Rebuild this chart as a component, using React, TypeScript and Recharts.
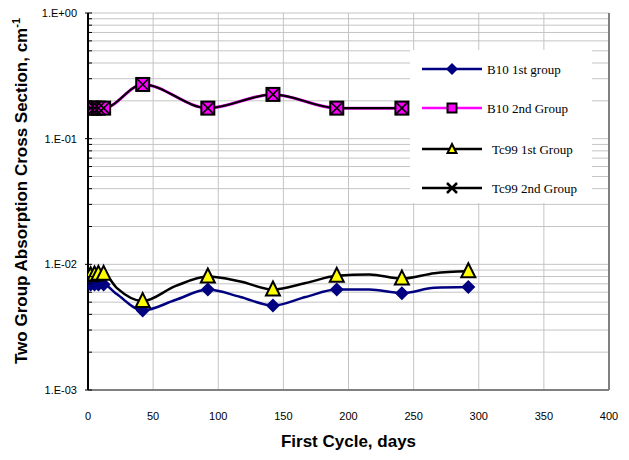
import React from 'react';
import { LineChart, Line, XAxis, YAxis, CartesianGrid, ReferenceLine, Legend } from 'recharts';

const SANS = '"Liberation Sans", Arial, sans-serif';
const SERIF = '"Liberation Serif", "Times New Roman", serif';

// ---- data (days, values) ----
const lowerDays = [2, 5, 8, 12, 22, 42, 67, 92, 117, 142, 167, 191, 216, 241, 266, 292];
const lowerMarked = [1, 1, 1, 1, 0, 1, 0, 1, 0, 1, 0, 1, 0, 1, 0, 1];
const b10FirstValues = [0.0069, 0.0069, 0.0069, 0.0069, 0.0058, 0.0043, 0.0052, 0.0063, 0.0055, 0.0047, 0.0055, 0.0063, 0.0063, 0.0059, 0.0065, 0.0066];
const tc99FirstValues = [0.0082, 0.0083, 0.0084, 0.0084, 0.0065, 0.0051, 0.0067, 0.0080, 0.0073, 0.0063, 0.0071, 0.0081, 0.0083, 0.0077, 0.0085, 0.0088];

const upperDays = [2, 5, 8, 12, 42, 92, 142, 191, 241];
const b10SecondValues = [0.175, 0.175, 0.175, 0.175, 0.27, 0.175, 0.225, 0.175, 0.175];
const tc99SecondValues = [0.175, 0.175, 0.175, 0.175, 0.27, 0.175, 0.225, 0.175, 0.175];

// ---- axes ----
const xTicks = [0, 50, 100, 150, 200, 250, 300, 350, 400];
const xMinorTicks = [0, 10, 20, 30, 40, 50, 60, 70, 80, 90, 100, 110, 120, 130, 140, 150, 160, 170, 180, 190, 200, 210, 220, 230, 240, 250, 260, 270, 280, 290, 300, 310, 320, 330, 340, 350, 360, 370, 380, 390, 400];
const majorYTicks = [0.001, 0.01, 0.1, 1];
const majorYLabels = ['1.E-03', '1.E-02', '1.E-01', '1.E+00'];
const yTicks = [
  0.001, 0.002, 0.003, 0.004, 0.005, 0.006, 0.007, 0.008, 0.009,
  0.01, 0.02, 0.03, 0.04, 0.05, 0.06, 0.07, 0.08, 0.09,
  0.1, 0.2, 0.3, 0.4, 0.5, 0.6, 0.7, 0.8, 0.9, 1,
];

const legendNames = ['B10 1st group', 'B10 2nd Group', 'Tc99 1st Group', 'Tc99 2nd Group'];
const legendColors = ['#000080', '#FF00FF', '#000000', '#000000'];

const b10First = lowerDays.map((d, i) => ({ day: d, v: b10FirstValues[i], m: lowerMarked[i] }));
const tc99First = lowerDays.map((d, i) => ({ day: d, v: tc99FirstValues[i], m: lowerMarked[i] }));
const b10Second = upperDays.map((d, i) => ({ day: d, v: b10SecondValues[i], m: 1 }));
const tc99Second = upperDays.map((d, i) => ({ day: d, v: tc99SecondValues[i], m: 1 }));

// ---- marker shapes ----
const diamond = (cx: number, cy: number, r: number, key?: any) => (
  <path key={key} d={`M${cx},${cy - r}L${cx + r},${cy}L${cx},${cy + r}L${cx - r},${cy}Z`} fill="#000080" />
);
const triangle = (cx: number, cy: number, hw: number, up: number, down: number, key?: any) => (
  <path key={key} d={`M${cx},${cy - up}L${cx + hw},${cy + down}L${cx - hw},${cy + down}Z`} fill="#FFFF00" stroke="#000" strokeWidth={2} strokeLinejoin="miter" />
);
const square = (cx: number, cy: number, h: number, key?: any) => (
  <rect key={key} x={cx - h} y={cy - h} width={2 * h} height={2 * h} fill="#FF00FF" stroke="#000" strokeWidth={2} />
);
const cross = (cx: number, cy: number, h: number, w: number, key?: any) => (
  <path key={key} d={`M${cx - h},${cy - h}L${cx + h},${cy + h}M${cx + h},${cy - h}L${cx - h},${cy + h}`} stroke="#000" strokeWidth={w} fill="none" />
);

const DiamondDot = (p: any) => (p.payload && p.payload.m ? diamond(p.cx, p.cy, 7, `dd${p.index}`) : <g key={`dd${p.index}`} />);
const TriangleDot = (p: any) => (p.payload && p.payload.m ? triangle(p.cx, p.cy, 7, 8, 6, `td${p.index}`) : <g key={`td${p.index}`} />);
const SquareDot = (p: any) => (p.payload && p.payload.m ? square(p.cx, p.cy, 6.5, `sd${p.index}`) : <g key={`sd${p.index}`} />);
const CrossDot = (p: any) => (p.payload && p.payload.m ? cross(p.cx, p.cy, 6.5, 1.6, `cd${p.index}`) : <g key={`cd${p.index}`} />);

// ---- ticks ----
const BottomTick = (props: any) => {
  const { x, y, payload } = props;
  return (
    <text x={x} y={y + 30} textAnchor="middle" fontSize={11} fontFamily={SANS} fill="#000">
      {payload.value}
    </text>
  );
};

const TopTick = (props: any) => {
  const { x, y } = props;
  return <line x1={x} x2={x} y1={y} y2={y + 4} stroke="#000" strokeWidth={1} />;
};

const LeftTick = (props: any) => {
  const { x, y, payload } = props;
  const i = majorYTicks.indexOf(payload.value);
  if (i >= 0) {
    return (
      <g>
        <line x1={x - 3} x2={x + 4} y1={y} y2={y} stroke="#000" strokeWidth={1} />
        <text x={x - 11} y={y} dy="0.35em" textAnchor="end" fontSize={11} fontFamily={SANS} fill="#000">
          {majorYLabels[i]}
        </text>
      </g>
    );
  }
  return <line x1={x} x2={x + 4} y1={y} y2={y} stroke="#000" strokeWidth={1} />;
};

const XTitle = () => (
  <text x={340.5} y={439} textAnchor="middle" fontSize={17} fontWeight="bold" fontFamily={SANS} fill="#000">
    First Cycle, days
  </text>
);

const YTitle = () => (
  <text x={13} y={183} transform="rotate(-90, 13, 183)" textAnchor="middle" dy="0.35em" fontSize={17} fontWeight="bold" fontFamily={SANS} fill="#000">
    Two Group Absorption Cross Section, cm<tspan dy={-7} fontSize={11}>-1</tspan>
  </text>
);

const LegendBox = () => {
  const rows = [19, 58, 99, 138];
  const textX = [77, 77, 82, 82];
  return (
    <svg width={182} height={153} style={{ display: 'block' }}>
      <rect x={0} y={0} width={182} height={153} fill="#fff" />
      {legendNames.map((name, i) => {
        const y = rows[i];
        let marker: any = null;
        if (i === 0) marker = diamond(42, y, 6);
        if (i === 1) marker = square(42, y, 4.5);
        if (i === 2) marker = triangle(42, y, 4.5, 5, 4);
        if (i === 3) marker = cross(42, y, 5, 2.5);
        return (
          <g key={name}>
            <line x1={12} x2={72} y1={y} y2={y} stroke={legendColors[i]} strokeWidth={2.5} />
            {marker}
            <text x={textX[i]} y={y} dy="0.35em" fontSize={13} fontFamily={SERIF} fill="#000">
              {name}
            </text>
          </g>
        );
      })}
    </svg>
  );
};

export default function App() {
  return (
    <div style={{ width: 613, height: 444 }}>
      <LineChart width={613} height={444} margin={{ top: 5, right: 12, bottom: 0, left: 0 }}>
        <CartesianGrid stroke="#C4C4C4" strokeWidth={1} />
        <XAxis
          xAxisId={0}
          dataKey="day"
          type="number"
          domain={[0, 400]}
          ticks={xTicks}
          interval={0}
          height={62}
          tickSize={0}
          tickMargin={0}
          tickLine={false}
          axisLine={{ stroke: '#808080', strokeWidth: 2 }}
          tick={<BottomTick />}
          label={<XTitle />}
          allowDataOverflow
        />
        <XAxis
          xAxisId="top"
          orientation="top"
          dataKey="day"
          type="number"
          domain={[0, 400]}
          ticks={xMinorTicks}
          interval={0}
          height={0}
          tickSize={0}
          tickMargin={0}
          tickLine={false}
          axisLine={{ stroke: '#000', strokeWidth: 1.5 }}
          tick={<TopTick />}
          allowDataOverflow
        />
        <YAxis
          dataKey="v"
          scale="log"
          domain={[0.001, 1]}
          ticks={yTicks}
          interval={0}
          width={80}
          tickSize={0}
          tickMargin={0}
          tickLine={false}
          axisLine={{ stroke: '#000', strokeWidth: 2 }}
          tick={<LeftTick />}
          label={<YTitle />}
          allowDataOverflow
        />
        <ReferenceLine x={400} stroke="#808080" strokeWidth={2} />
        <Line data={b10First} dataKey="v" type="monotone" stroke="#000080" strokeWidth={2.5} dot={DiamondDot} activeDot={false} isAnimationActive={false} />
        <Line data={b10Second} dataKey="v" type="monotone" stroke="#FF00FF" strokeWidth={3} dot={SquareDot} activeDot={false} isAnimationActive={false} />
        <Line data={tc99First} dataKey="v" type="monotone" stroke="#000000" strokeWidth={2.5} dot={TriangleDot} activeDot={false} isAnimationActive={false} />
        <Line data={tc99Second} dataKey="v" type="monotone" stroke="#000000" strokeWidth={2.2} dot={CrossDot} activeDot={false} isAnimationActive={false} />
        <Legend
          layout="vertical"
          align="center"
          verticalAlign="middle"
          wrapperStyle={{ position: 'absolute', left: 402, top: 42, width: 182, height: 153 }}
          content={() => <LegendBox />}
        />
      </LineChart>
    </div>
  );
}
